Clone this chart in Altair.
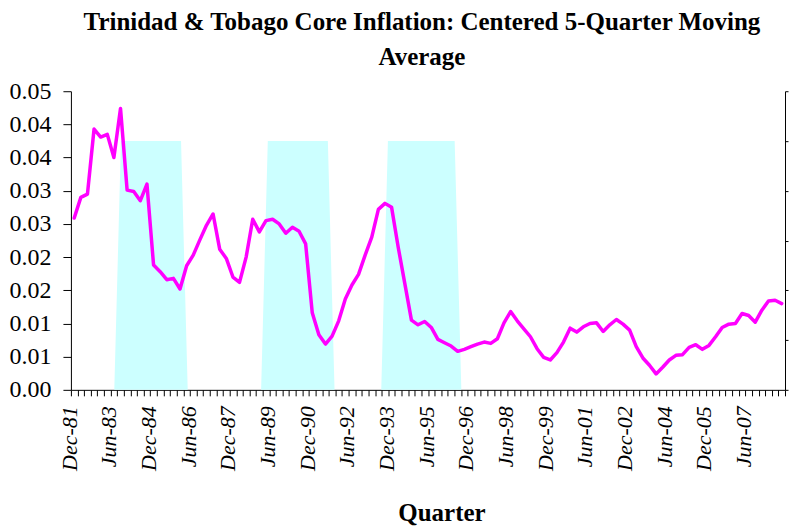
import altair as alt
import pandas as pd

# ---- categories (quarters, Dec-81 .. Sep-08) ----
month_names = ["Mar", "Jun", "Sep", "Dec"]
quarters = []
_year, _q = 1981, 3
for _ in range(108):
    quarters.append(f"{month_names[_q]}-{_year % 100:02d}")
    _q += 1
    if _q == 4:
        _q = 0
        _year += 1

# ---- series values ----
core_inflation = [
    0.0259, 0.0290, 0.0295, 0.0393, 0.0381, 0.0385, 0.0350, 0.0424, 0.0301, 0.0299,
    0.0285, 0.0310, 0.0188, 0.0178, 0.0166, 0.0168, 0.0152, 0.0187, 0.0203, 0.0226,
    0.0248, 0.0265, 0.0212, 0.0198, 0.0170, 0.0162, 0.0200, 0.0257, 0.0238, 0.0255,
    0.0257, 0.0250, 0.0236, 0.0245, 0.0239, 0.0220, 0.0116, 0.0083, 0.0069, 0.0081,
    0.0104, 0.0137, 0.0158, 0.0174, 0.0203, 0.0230, 0.0272, 0.0281, 0.0275, 0.0215,
    0.0160, 0.0105, 0.0098, 0.0103, 0.0094, 0.0076, 0.0071, 0.0066, 0.0058, 0.0061,
    0.0065, 0.0069, 0.0072, 0.0070, 0.0077, 0.0101, 0.0118, 0.0104, 0.0092, 0.0080,
    0.0062, 0.0049, 0.0045, 0.0056, 0.0072, 0.0093, 0.0087, 0.0095, 0.0100, 0.0101,
    0.0088, 0.0098, 0.0106, 0.0099, 0.0090, 0.0065, 0.0048, 0.0037, 0.0024, 0.0034,
    0.0045, 0.0052, 0.0053, 0.0064, 0.0068, 0.0061, 0.0067, 0.0080, 0.0094, 0.0099,
    0.0100, 0.0115, 0.0112, 0.0102, 0.0120, 0.0134, 0.0135, 0.0130,
]

# shaded periods (secondary axis, 107 points, 1 = shaded)
shade_periods = [(7, 16), (29, 38), (47, 57)]
shade_flag = [0] * 107
for a, b in shade_periods:
    for k in range(a, b + 1):
        shade_flag[k] = 1

# ---- tick labels ----
y_tick_values = [round(k * 0.005, 3) for k in range(10)]
y_tick_labels = ["0.00", "0.01", "0.01", "0.02", "0.02", "0.03", "0.03", "0.04", "0.04", "0.05"]
x_shown_labels = ["Dec-81", "Jun-83", "Dec-84", "Jun-86", "Dec-87", "Jun-89", "Dec-90",
                  "Jun-92", "Dec-93", "Jun-95", "Dec-96", "Jun-98", "Dec-99", "Jun-01",
                  "Dec-02", "Jun-04", "Dec-05", "Jun-07"]
right_tick_values = [0, 0.2, 0.4, 0.6, 0.8, 1.0, 1.2]

df_line = pd.DataFrame({"quarter": quarters, "value": core_inflation})
df_shade = pd.DataFrame({"pos": list(range(107)), "flag": shade_flag})

FONT = "Liberation Serif"
W = 715

y_label_expr = "[" + ",".join(f"'{s}'" for s in y_tick_labels) + "][round(datum.value / 0.005)]"
x_label_expr = "indexof([" + ",".join(f"'{s}'" for s in x_shown_labels) + "], datum.value) >= 0 ? datum.value : ''"

shade = alt.Chart(df_shade).mark_area(color="#CCFFFF", opacity=1, interpolate="linear").encode(
    x=alt.X("pos:O", sort=None, axis=None,
            scale=alt.Scale(type="point", padding=0.5)),
    y=alt.Y("flag:Q", scale=alt.Scale(domain=[0, 1.2], nice=False),
            axis=alt.Axis(orient="right", values=right_tick_values, labels=False,
                          tickSize=3, grid=False, title=None,
                          domainColor="#000000", tickColor="#000000")),
)

line = alt.Chart(df_line).mark_line(color="#FF00FF", strokeWidth=3.5,
                                    strokeJoin="round", strokeCap="round").encode(
    x=alt.X("quarter:O", sort=quarters,
            scale=alt.Scale(type="band", paddingInner=0, paddingOuter=0),
            axis=alt.Axis(title="Quarter", labelExpr=x_label_expr, labelAngle=-90,
                          labelFont=FONT, labelFontSize=22, labelFontStyle="italic",
                          labelOverlap=False, labelPadding=10, labelOffset=-5, tickSize=6,
                          tickBand="extent", grid=False,
                          titleFont=FONT, titleFontSize=25, titleFontWeight="bold",
                          titlePadding=30, titleColor="#000000", titleX=371,
                          titleAlign="center",
                          domainColor="#000000", tickColor="#000000",
                          labelColor="#000000")),
    y=alt.Y("value:Q", scale=alt.Scale(domain=[0, 0.045], nice=False),
            axis=alt.Axis(values=y_tick_values, labelExpr=y_label_expr, title=None,
                          labelFont=FONT, labelFontSize=24, labelPadding=12, tickSize=8,
                          grid=False, domainColor="#000000", tickColor="#000000",
                          labelColor="#000000")),
)

chart = alt.layer(shade, line).resolve_scale(x="independent", y="independent").properties(
    width=W,
    height=299,
    padding={"left": 1, "top": 2, "right": 0, "bottom": 0},
    title=alt.TitleParams(
        text=["Trinidad & Tobago Core Inflation: Centered 5-Quarter Moving", "Average"],
        font=FONT, fontSize=25, fontWeight="bold", lineHeight=35,
        anchor="middle", dx=-6, offset=9, color="#000000",
    ),
).configure_view(stroke=None)

chart.save("out.html", embed_options={"renderer": "svg", "actions": False})
